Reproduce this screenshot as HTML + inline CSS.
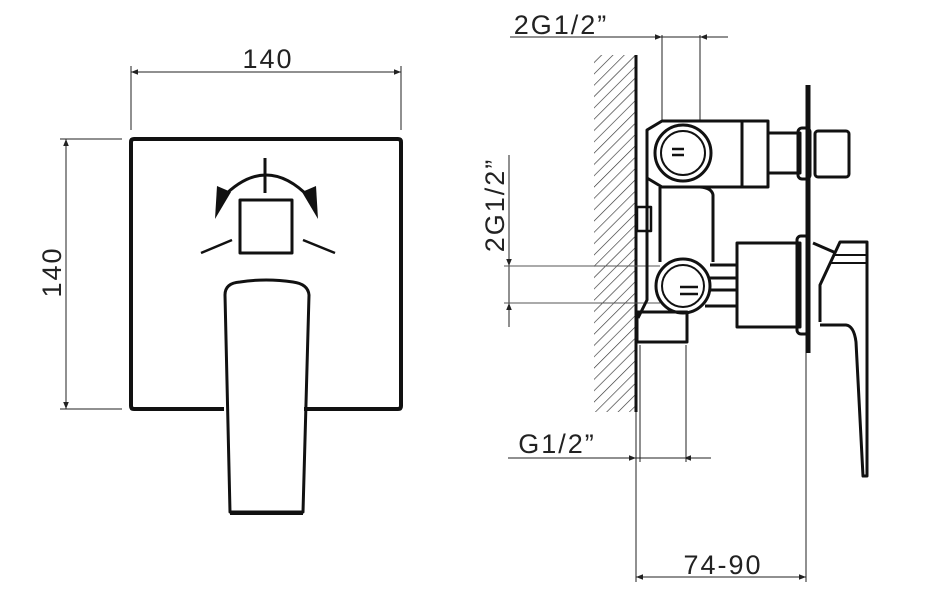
<!DOCTYPE html>
<html><head><meta charset="utf-8"><style>
html,body{margin:0;padding:0;background:#fff;}
svg{display:block}
text{font-family:"Liberation Sans",sans-serif;fill:#222;letter-spacing:2px;}
</style></head><body>
<svg width="927" height="609" viewBox="0 0 927 609" xmlns="http://www.w3.org/2000/svg">
<defs>
<pattern id="h" width="8" height="8" patternUnits="userSpaceOnUse" patternTransform="rotate(45)">
<line x1="0" y1="0" x2="0" y2="8" stroke="#333" stroke-width="1.3"/>
</pattern>
<marker id="a" viewBox="0 0 10 10" refX="10" refY="5" markerWidth="10" markerHeight="7" markerUnits="userSpaceOnUse" orient="auto"><path d="M0,1 L10,5 L0,9z" fill="#222"/></marker>
</defs>
<g stroke="#222" stroke-width="1" fill="none">
<line x1="131" y1="66" x2="131" y2="130"/><line x1="401" y1="66" x2="401" y2="130"/>
<line x1="141" y1="72" x2="131" y2="72" marker-end="url(#a)"/>
<line x1="131" y1="72" x2="401" y2="72"/>
<line x1="391" y1="72" x2="401" y2="72" marker-end="url(#a)"/>
<line x1="60" y1="139" x2="122" y2="139"/><line x1="60" y1="409" x2="122" y2="409"/>
<line x1="66" y1="139" x2="66" y2="409"/>
<line x1="66" y1="149" x2="66" y2="139" marker-end="url(#a)"/>
<line x1="66" y1="399" x2="66" y2="409" marker-end="url(#a)"/>
</g>
<text x="268" y="68" font-size="27" text-anchor="middle">140</text>
<text x="0" y="0" font-size="27" text-anchor="middle" transform="translate(61,272) rotate(-90)">140</text>
<g stroke="#111" fill="none" stroke-linejoin="round">
<path d="M224,409 H134 Q131,409 131,406 V142 Q131,139 134,139 H398 Q401,139 401,142 V406 Q401,409 398,409 H304" stroke-width="4"/>
<path d="M230,512 L225,295 Q225,283 240,282 Q266,278 293,282 Q308,284 309,295 L303,512 Z" stroke-width="3"/>
<line x1="230" y1="513" x2="303" y2="513" stroke-width="4"/>
<rect x="240" y="200" width="52" height="53" stroke-width="3"/>
<line x1="265" y1="158" x2="265" y2="193" stroke-width="3"/>
<path d="M222,198 Q266,152 310,198" stroke-width="3"/>
<line x1="201" y1="253" x2="232" y2="240" stroke-width="2.5"/>
<line x1="303" y1="240" x2="335" y2="253" stroke-width="2.5"/>
</g>
<path d="M215,219 L217,186 L231,192 Z" fill="#111"/>
<path d="M318,219 L316,186 L302,192 Z" fill="#111"/>

<rect x="594" y="55" width="41" height="357" fill="url(#h)"/>
<line x1="636" y1="55" x2="636" y2="412" stroke="#111" stroke-width="3"/>
<g stroke="#222" stroke-width="1" fill="none">
<line x1="510" y1="37" x2="728" y2="37"/>
<line x1="652" y1="37" x2="662" y2="37" marker-end="url(#a)"/>
<line x1="710" y1="37" x2="700" y2="37" marker-end="url(#a)"/>
<line x1="662" y1="35" x2="662" y2="122"/><line x1="700" y1="35" x2="700" y2="122"/>
<line x1="509" y1="155" x2="509" y2="327"/>
<line x1="509" y1="256" x2="509" y2="266" marker-end="url(#a)"/>
<line x1="509" y1="313" x2="509" y2="303" marker-end="url(#a)"/>
<line x1="504" y1="266" x2="660" y2="266" stroke="#555"/>
<line x1="504" y1="303" x2="660" y2="303" stroke="#555"/>
<line x1="508" y1="458" x2="711" y2="458"/>
<line x1="626" y1="458" x2="636" y2="458" marker-end="url(#a)"/>
<line x1="694" y1="458" x2="684" y2="458" marker-end="url(#a)"/>
<line x1="636" y1="412" x2="636" y2="582"/>
<line x1="640" y1="345" x2="640" y2="462"/>
<line x1="686" y1="345" x2="686" y2="462"/>
<line x1="806" y1="350" x2="806" y2="582"/>
<line x1="636" y1="577" x2="806" y2="577"/>
<line x1="646" y1="577" x2="636" y2="577" marker-end="url(#a)"/>
<line x1="796" y1="577" x2="806" y2="577" marker-end="url(#a)"/>
</g>
<text x="561" y="34" font-size="27" text-anchor="middle">2G1/2”</text>
<text x="0" y="0" font-size="27" text-anchor="middle" transform="translate(504,205) rotate(-90)">2G1/2”</text>
<text x="557" y="453" font-size="27" text-anchor="middle">G1/2”</text>
<text x="723" y="574" font-size="27" text-anchor="middle">74-90</text>

<g stroke="#111" stroke-width="3" fill="none" stroke-linejoin="round">
<line x1="808" y1="85" x2="808" y2="353" stroke-width="5"/>
<path d="M662,121 H768 V187 H662 L647,178 V130 Z"/>
<line x1="742" y1="121" x2="742" y2="187"/>
<circle cx="683" cy="153" r="28"/>
<circle cx="683" cy="153" r="22" stroke-width="2"/>
<path d="M672,149 H684 M672,155 H684" stroke-width="2.5"/>
<rect x="768" y="133" width="32" height="40"/>
<rect x="798" y="128" width="12" height="51" rx="4"/>
<rect x="815" y="131" width="34" height="46" rx="3"/>
<path d="M647,178 V300 L638,318"/>
<line x1="660" y1="187" x2="660" y2="262"/>
<path d="M700,187 Q712,188 713,195 V262"/>
<rect x="637" y="207" width="14" height="24" stroke-width="2.5"/>
<circle cx="683" cy="286" r="27"/>
<circle cx="683" cy="286" r="21" stroke-width="2"/>
<path d="M680,287 H698 M680,294 H698" stroke-width="2.5"/>
<path d="M710,265 H737 M710,278 H737 M710,290 H737 M705,306 H737"/>
<rect x="737" y="243" width="63" height="84"/>
<rect x="797" y="236" width="12" height="98" rx="4"/>
<rect x="637" y="312" width="50" height="30"/>
<path d="M813,243 L836,253"/>
<path d="M820,322 V285 L840,242 H867 V476 L863,476 L856,342 Q854,326 846,325 H820"/>
<path d="M833,255 H867 M830,263 H867" stroke-width="2"/>
</g>
</svg>
</body></html>
